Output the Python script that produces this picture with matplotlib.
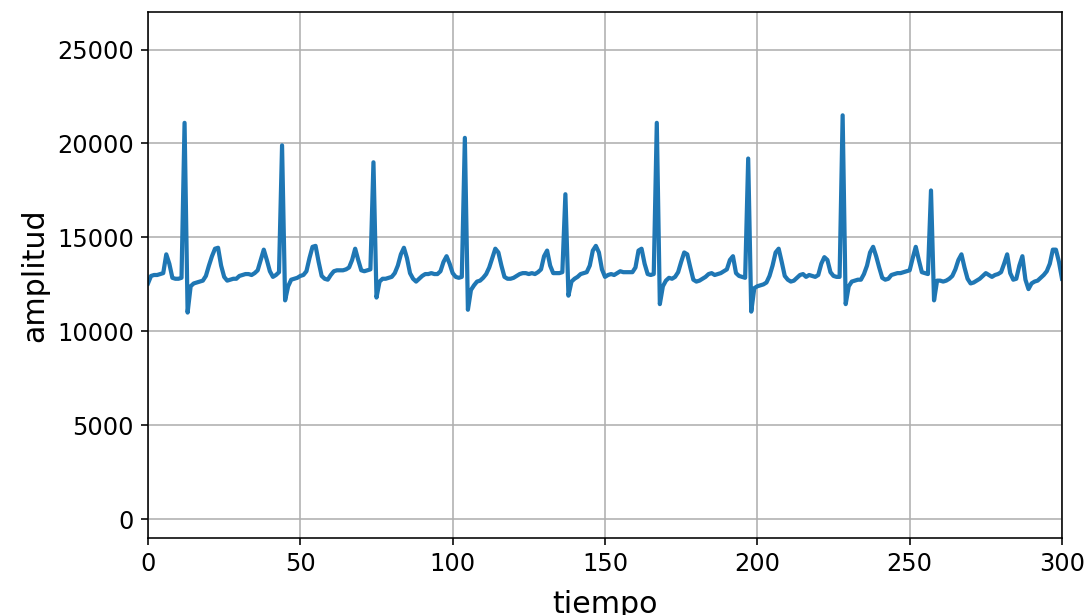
import numpy as np
import matplotlib
matplotlib.use('AGG')
import matplotlib.pyplot as plt

# senal, una muestra por unidad de tiempo (0..300)
amplitud = [
    12550, 12950, 13000, 13000, 13050, 13100, 14100, 13600, 12850, 12800,
    12800, 12850, 21100, 11000, 12400, 12550, 12600, 12650, 12700, 12950,
    13500, 14000, 14400, 14450, 13500, 12900, 12700, 12750, 12800, 12800,
    12950, 13000, 13050, 13050, 13000, 13100, 13250, 13800, 14350, 13800,
    13200, 12900, 13000, 13150, 19900, 11650, 12400, 12750, 12800, 12850,
    12950, 13000, 13200, 13900, 14500, 14550, 13700, 12950, 12800, 12750,
    13000, 13200, 13250, 13250, 13250, 13300, 13400, 13800, 14400, 13800,
    13250, 13200, 13250, 13300, 19000, 11800, 12650, 12800, 12800, 12850,
    12900, 13100, 13500, 14100, 14450, 13900, 13100, 12800, 12650, 12800,
    12950, 13050, 13050, 13100, 13050, 13050, 13200, 13700, 14000, 13600,
    13100, 12900, 12850, 12900, 20300, 11150, 12200, 12450, 12650, 12700,
    12850, 13050, 13400, 13900, 14400, 14200, 13500, 12900, 12800, 12800,
    12850, 12950, 13050, 13100, 13100, 13050, 13100, 13050, 13150, 13300,
    14000, 14300, 13500, 13100, 13100, 13100, 13150, 17300, 11900, 12650,
    12800, 12900, 13050, 13100, 13150, 13500, 14300, 14550, 14200, 13300,
    12900, 13000, 13050, 13000, 13100, 13200, 13150, 13150, 13150, 13150,
    13400, 14300, 14400, 13600, 13050, 13000, 13050, 21100, 11450, 12400,
    12700, 12850, 12800, 12900, 13150, 13700, 14200, 14100, 13400, 12750,
    12650, 12700, 12800, 12900, 13050, 13100, 13000, 13050, 13100, 13200,
    13300, 13800, 14000, 13100, 12950, 12900, 12850, 19200, 11050, 12300,
    12400, 12450, 12500, 12600, 12950, 13500, 14200, 14400, 13700, 12950,
    12750, 12650, 12700, 12850, 13000, 13050, 12900, 13000, 12950, 12900,
    13000, 13600, 13950, 13800, 13150, 12950, 12900, 12900, 21500, 11450,
    12400, 12650, 12700, 12750, 12750, 13050, 13500, 14200, 14500, 14000,
    13400, 12850, 12750, 12800, 13000, 13050, 13100, 13100, 13150, 13200,
    13250, 13900, 14500, 13800, 13150, 13100, 13050, 17500, 11650, 12700,
    12700, 12650, 12700, 12800, 12950, 13300, 13800, 14100, 13400, 12800,
    12550, 12600, 12700, 12800, 12950, 13100, 13000, 12900, 13000, 13050,
    13150, 13600, 14100, 13100, 12750, 12800, 13500, 14000, 12750, 12250,
    12550, 12650, 12700, 12850, 13000, 13200, 13600, 14350, 14350, 13700,
    12800,
]
tiempo = np.arange(len(amplitud))

fig = plt.figure(figsize=(1091 / 144, 615 / 144), dpi=144)
ax = fig.add_axes([148 / 1091, 1 - 538 / 615, 914 / 1091, 526 / 615])

ax.plot(tiempo, amplitud, color='#1f77b4', linewidth=2.1)

ax.set_xlim(0, 300)
ax.set_ylim(-1000, 27000)
ax.set_xticks([0, 50, 100, 150, 200, 250, 300])
ax.set_yticks([0, 5000, 10000, 15000, 20000, 25000])
ax.tick_params(labelsize=12)
ax.grid(True)

# la etiqueta del eje x queda medio cortada abajo, como en la original
ax.set_xlabel('tiempo', fontsize=15, labelpad=7)
ax.set_ylabel('amplitud', fontsize=15)

plt.savefig('out.png', dpi=144)
